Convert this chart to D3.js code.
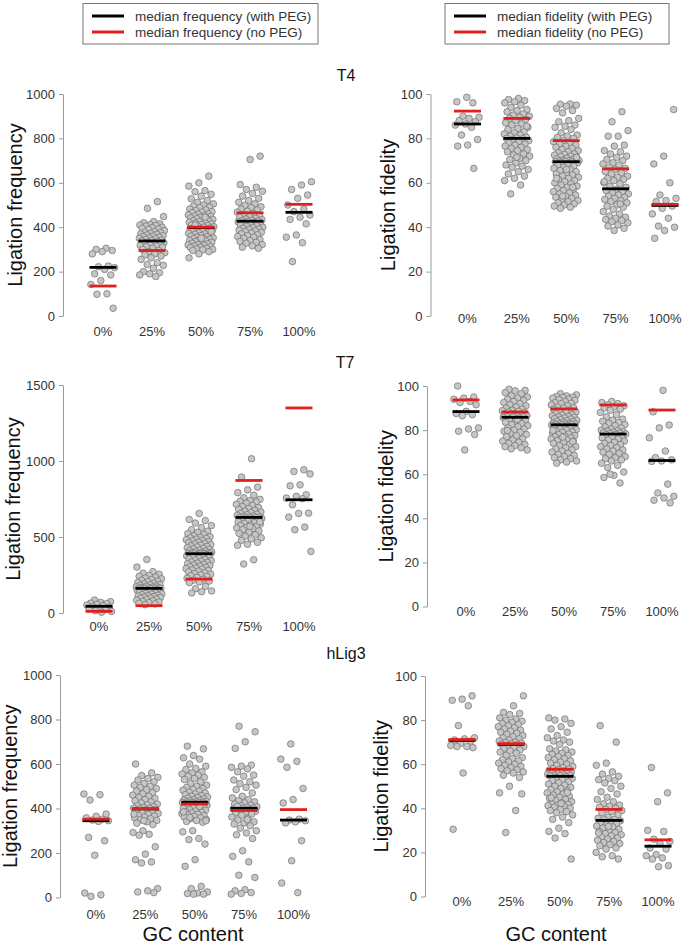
<!DOCTYPE html>
<html>
<head>
<meta charset="utf-8">
<script src="https://cdn.jsdelivr.net/npm/d3@7"></script>
<style>
body { margin: 0; background: #fff; }
svg text { font-family: "Liberation Sans", Arial, sans-serif; }
.dot { fill: #c6c6c6; stroke: #6f6f6f; stroke-width: 0.7; }
.axis path, .axis line { stroke: #999; fill: none; }
.axis text { fill: #333; font-size: 13px; font-family: "Liberation Sans", Arial, sans-serif; }
.cat { fill: #333; font-size: 13px; text-anchor: middle; }
.ylab { fill: #111; font-size: 20px; text-anchor: middle; }
.title { fill: #111; font-size: 16px; text-anchor: middle; }
.xlab { fill: #111; font-size: 20px; text-anchor: middle; }
.leg text { fill: #333; font-size: 13.5px; }
</style>
</head>
<body>
<svg id="chart" width="685" height="946"></svg>
<script>

var cats = ["0%", "25%", "50%", "75%", "100%"];

// T4 ligation frequency, one list per GC group
var t4Freq = [
  [305, 300, 295, 290, 280, 225, 222, 218, 210, 190, 185, 160, 142, 100, 98, 35],
  [515, 485, 448, 425, 420, 415, 412, 410, 408, 405, 400, 398, 395, 392, 390, 385, 380, 378, 375, 372, 370, 368, 365, 362, 360, 358, 355, 352, 350, 348, 345, 342,
   340, 338, 335, 332, 330, 328, 325, 322, 320, 318, 315, 312, 310, 305, 300, 295, 290, 285, 280, 275, 270, 262, 255, 240, 232, 228, 215, 200, 195, 190, 185, 178],
  [630, 600, 585, 565, 560, 548, 540, 528, 520, 512, 505, 500, 495, 490, 488, 482, 478, 475, 470, 468, 465, 460, 458, 455, 452, 450, 448, 445, 442, 440, 438, 435,
   432, 430, 428, 425, 422, 420, 418, 415, 412, 410, 408, 405, 402, 400, 398, 396, 394, 392, 390, 388, 385, 382, 380, 378, 375, 372, 370, 368, 365, 362, 360, 358,
   355, 352, 350, 348, 345, 342, 340, 338, 335, 332, 330, 328, 325, 322, 320, 318, 315, 312, 310, 308, 305, 302, 300, 298, 295, 290, 280, 262, 445, 410, 380, 350],
  [720, 705, 592, 580, 570, 562, 552, 540, 530, 520, 512, 505, 498, 492, 488, 482, 478, 472, 468, 462, 458, 452, 448, 445, 440, 437, 434, 431, 429, 428, 426, 424,
   421, 418, 415, 412, 410, 407, 404, 400, 398, 395, 392, 390, 387, 384, 380, 377, 374, 370, 366, 362, 358, 355, 350, 345, 340, 336, 332, 328, 322, 316, 310, 305],
  [605, 590, 570, 545, 530, 500, 482, 470, 455, 445, 435, 415, 365, 355, 330, 245]
];
var t4FreqMedPeg = [219, 338, 398, 427, 467];
var t4FreqMedNoPeg = [135, 295, 400, 465, 503];

// T4 ligation fidelity
var t4Fid = [
  [98.5, 96.5, 96, 90, 89.5, 89, 88, 87.5, 86.5, 86, 85, 81.5, 79.5, 77, 76.5, 66.5],
  [98, 97.5, 97, 96.5, 96, 95, 94, 93, 92.5, 92, 91, 90.5, 90, 89.5, 89, 88.5, 88, 87, 86.5, 86, 85, 84.5, 84, 83, 82.5, 82, 81.5, 81, 80.5, 80.2, 80, 79.8,
   79.5, 79, 78.5, 78, 77.5, 77, 76.5, 76, 75.5, 75, 74.5, 74, 73, 72.5, 72, 71, 70.5, 70, 69, 68, 67.5, 67, 66, 65, 64, 63, 62, 61, 59, 55, 85.5, 71.5],
  [95.5, 95.4, 95, 94.5, 93.5, 92.5, 91.5, 89, 88, 87.5, 86, 85.5, 85, 84, 82.5, 81.5, 81, 80.5, 80, 79, 78.5, 78, 77.5, 77, 76.5, 76, 75.5, 75, 74.5, 74, 73.5, 73,
   72.8, 72.5, 72, 71.8, 71.5, 71, 70.8, 70.5, 70.2, 70, 69.9, 69.8, 69.7, 69.6, 69.5, 69.4, 69.2, 69, 68.5, 68, 67.5, 67, 66.5, 66, 65.5, 65, 64.5, 64, 63.5, 63,
   62.5, 62, 61.5, 61, 60.5, 60, 59.5, 59, 58.5, 58, 57.5, 57, 56.5, 56, 55.5, 55, 54.5, 54, 53.5, 53, 52.5, 52, 51.5, 51, 50.5, 50, 49.5, 49, 48.5, 71.5, 66, 62, 58, 54],
  [92, 87.5, 83.5, 81, 81, 77, 76.5, 74.5, 74, 73, 72, 71.5, 70.5, 70, 69, 68.5, 68, 67, 66.5, 66, 65, 64.5, 64, 63, 62.5, 62, 61.5, 61, 60, 59.5, 58.5, 58,
   57, 56.5, 56, 55.5, 55, 54.5, 54, 53.5, 53, 52.5, 52, 51.5, 51, 50, 49.5, 49, 48, 47, 46, 45, 44.5, 44, 43.5, 43, 42.5, 42, 41, 40.5, 39.5, 38.5, 60.5, 50.5],
  [93, 72, 68.5, 60, 54.5, 53, 52, 51.5, 49.5, 48.5, 46, 44, 40.5, 40, 38.5, 35]
];
var t4FidMedPeg = [86.5, 80, 69.5, 57.3, 49.8];
var t4FidMedNoPeg = [92.3, 89, 79, 66.3, 50.3];

// T7 ligation frequency
var t7Freq = [
  [85, 75, 70, 65, 62, 58, 52, 48, 42, 38, 32, 28, 22, 15, 10, 5],
  [352, 302, 272, 262, 255, 248, 242, 236, 230, 225, 220, 215, 210, 205, 200, 196, 192, 188, 185, 182, 178, 175, 172, 170, 168, 166, 165, 164, 163, 162, 161, 160,
   158, 155, 152, 150, 147, 144, 141, 138, 135, 132, 129, 126, 123, 120, 117, 114, 111, 108, 105, 102, 99, 96, 92, 88, 84, 80, 76, 72, 68, 64, 60, 55],
  [655, 615, 608, 592, 575, 562, 548, 538, 530, 522, 515, 508, 502, 498, 494, 490, 486, 482, 478, 474, 470, 466, 462, 458, 454, 450, 446, 442, 438, 434, 430, 426,
   422, 418, 414, 410, 407, 404, 401, 398, 396, 394, 393, 392, 391, 390, 389, 388, 386, 383, 380, 376, 372, 368, 364, 360, 356, 352, 348, 344, 340, 336, 332, 328,
   324, 320, 316, 312, 308, 304, 300, 296, 292, 288, 284, 280, 275, 270, 265, 260, 255, 250, 245, 240, 234, 228, 222, 216, 210, 205, 200, 175, 160, 145, 140, 132],
  [1015, 895, 828, 810, 792, 775, 758, 748, 740, 735, 730, 722, 715, 708, 700, 694, 688, 682, 676, 670, 665, 660, 655, 650, 646, 642, 638, 635, 632, 630, 629, 628,
   626, 622, 618, 614, 610, 605, 600, 595, 590, 585, 580, 575, 570, 565, 560, 555, 548, 540, 532, 524, 515, 505, 495, 488, 478, 465, 452, 445, 350, 322, 600, 570],
  [942, 931, 915, 843, 837, 778, 767, 756, 752, 712, 657, 655, 631, 565, 548, 405]
];
var t7FreqMedPeg = [44, 162, 390, 629, 745];
var t7FreqMedNoPeg = [11, 48, 223, 872, 1349];

// T7 ligation fidelity
var t7Fid = [
  [100, 95, 94.5, 94, 93, 92.5, 91.5, 88.5, 87.5, 87, 86.5, 81, 80.5, 79.5, 78, 71],
  [98.5, 98, 97.8, 97, 96.5, 95.5, 95, 94.5, 94, 93.5, 93, 92.5, 92, 91.5, 91, 90.5, 90, 89.5, 89, 88.8, 88.5, 88.2, 88, 87.5, 87.2, 87, 86.8, 86.5, 86.3, 86.1, 86, 85.9,
   85.7, 85.5, 85, 84.5, 84, 83.5, 83, 82.5, 82, 81.5, 81, 80.5, 80, 79.5, 79, 78.5, 78, 77.5, 77, 76, 75.5, 75, 74.5, 74, 73.5, 73, 72.5, 72, 71.5, 71, 84.8, 79.8],
  [96.5, 96, 95.5, 95.2, 95, 94.8, 94.5, 94, 93.8, 93.5, 93, 92.5, 92.2, 92, 91.5, 91, 90.5, 90.2, 90, 89.5, 89, 88.5, 88.2, 88, 87.5, 87, 86.8, 86.5, 86.2, 86, 85.8, 85.5,
   85.2, 85, 84.8, 84.5, 84.2, 84, 83.8, 83.5, 83.2, 83, 82.9, 82.8, 82.7, 82.6, 82.5, 82.4, 82.2, 82, 81.8, 81.5, 81.2, 81, 80.8, 80.5, 80.2, 80, 79.5, 79.2, 79, 78.5,
   78.2, 78, 77.5, 77.2, 77, 76.5, 76.2, 76, 75.5, 75.2, 75, 74.5, 74, 73.5, 73, 72.5, 72, 71.5, 71, 70.5, 70, 69.5, 69, 68.5, 68, 67.5, 67, 66.5, 66, 65.5, 65, 74.8, 76.8, 79.8],
  [93, 92.5, 92, 91.5, 91, 90.5, 90, 89.5, 89, 88, 87, 86, 85, 84.5, 84, 83.5, 83, 82.5, 82, 81.5, 81, 80.5, 80, 79.8, 79.5, 79.2, 79, 78.8, 78.6, 78.4, 78.2, 78.1,
   78, 77.5, 77, 76.5, 76, 75.5, 75, 74.5, 74, 73.5, 73, 72.5, 72, 71.5, 71, 70.5, 70, 69.5, 69, 68, 67.5, 67, 66.5, 66, 65, 64, 63, 61, 59.5, 58.5, 56, 60],
  [98, 88.3, 82.3, 81, 76.5, 70.5, 67.5, 66.5, 66, 65.8, 55.5, 51.5, 50, 49.2, 48.2, 47]
];
var t7FidMedPeg = [88.4, 85.8, 82.4, 78.2, 66.2];
var t7FidMedNoPeg = [93.7, 88.2, 89.6, 91.4, 89.1];

// hLig3 ligation frequency
var hlig3Freq = [
  [465, 462, 438, 375, 365, 358, 352, 348, 345, 342, 270, 255, 190, 20, 12, 5],
  [600, 560, 548, 540, 535, 528, 520, 512, 505, 500, 495, 490, 484, 478, 472, 466, 460, 455, 450, 445, 440, 435, 430, 425, 420, 416, 412, 408, 405, 402, 400, 399,
   397, 394, 390, 386, 382, 378, 374, 370, 366, 362, 358, 354, 350, 346, 340, 334, 328, 300, 292, 284, 280, 228, 195, 170, 160, 155, 40, 30, 25, 22, 345, 375],
  [680, 668, 638, 628, 622, 600, 590, 580, 575, 565, 560, 555, 550, 545, 540, 535, 530, 520, 512, 505, 500, 495, 490, 486, 482, 478, 474, 470, 466, 462, 458, 455,
   452, 449, 446, 443, 440, 438, 436, 434, 432, 430, 429, 428, 427, 426, 425, 424, 423, 422, 420, 418, 416, 414, 412, 410, 407, 404, 401, 398, 395, 392, 389, 386,
   383, 380, 377, 374, 371, 368, 365, 362, 358, 354, 350, 346, 342, 338, 300, 295, 265, 260, 240, 170, 140, 50, 40, 25, 20, 18, 15, 15, 385, 410, 360, 345],
  [770, 745, 700, 670, 595, 590, 585, 578, 565, 550, 545, 528, 520, 512, 505, 495, 485, 470, 455, 448, 440, 435, 430, 425, 420, 415, 412, 408, 405, 403, 401, 400,
   398, 395, 392, 388, 384, 380, 375, 370, 362, 355, 348, 340, 335, 330, 322, 312, 300, 290, 282, 265, 210, 185, 160, 100, 90, 35, 30, 22, 18, 15, 350, 410],
  [690, 622, 612, 585, 490, 440, 425, 352, 348, 345, 340, 335, 255, 165, 65, 22]
];
var hlig3FreqMedPeg = [345, 398, 428, 401, 348];
var hlig3FreqMedNoPeg = [352, 399, 420, 391, 395];

// hLig3 ligation fidelity
var hlig3Fid = [
  [91, 89.5, 89, 86.5, 77.5, 72, 71.5, 71, 70.5, 69.5, 68.5, 68, 68, 67.5, 56, 30.5],
  [91, 86.5, 83.5, 83, 82.5, 81, 80.5, 80, 79.5, 79, 78.5, 78, 77.5, 77, 76.5, 76, 75.5, 75, 74.5, 74, 73.5, 73, 72.5, 72, 71.5, 71, 70.5, 70, 69.8, 69.5, 69.3, 69.1,
   68.8, 68.5, 68, 67.5, 67, 66.5, 66, 65.5, 65, 64, 63, 62.5, 62, 61.5, 61, 60.5, 60, 59.5, 59, 58.5, 58, 57.5, 57, 56.5, 56, 55, 54, 50, 47, 39, 29, 46.5],
  [81, 80.5, 80, 78.5, 77, 76, 74.5, 73, 72, 71, 70.5, 70, 69, 67, 66.5, 66, 65.5, 65, 64.5, 64, 63.5, 63, 62.5, 62, 61.5, 61, 60.5, 60, 59.5, 59, 58.5, 58,
   57.8, 57.5, 57.2, 57, 56.8, 56.5, 56.2, 56, 55.8, 55.6, 55.4, 55.2, 55, 54.9, 54.8, 54.7, 54.3, 54, 53.5, 53, 52.5, 52, 51.5, 51, 50.5, 50, 49.5, 49, 48.5, 48,
   47.5, 47, 46.5, 46, 45.5, 45, 44.5, 44, 43.5, 43, 42.5, 42, 41.8, 41.5, 41.2, 41, 40.5, 40, 39.5, 39, 38.5, 38, 37, 36, 35, 33.5, 31, 29.5, 28.5, 26.5, 17, 42.2, 44.8, 47.2],
  [77.5, 70, 60.5, 59.5, 56.5, 55.5, 54.5, 53.5, 53, 52.5, 51.5, 50, 49, 47.5, 46.5, 45, 44, 43, 42, 41.5, 41, 40.5, 40, 39.5, 39, 38.5, 38, 37, 36, 35.5, 35, 34.8,
   34.3, 34, 33.5, 33, 32.5, 32, 31.5, 31, 30.5, 30, 29.5, 29, 28.5, 28, 27.5, 27, 26.5, 26, 25.5, 25, 24.5, 24, 23.5, 23, 22, 21.5, 20, 18.5, 18, 17, 31.8, 28.8],
  [58.5, 47, 43, 30, 29.5, 26, 25, 24, 22, 21.5, 19, 18.5, 17.5, 17, 14, 13.5]
];
var hlig3FidMedPeg = [70.8, 69, 54.5, 34.5, 22.8];
var hlig3FidMedNoPeg = [71.2, 69.3, 57.7, 39.5, 25.7];

var legendFreq = ["median frequency (with PEG)", "median frequency (no PEG)"];
var legendFid = ["median fidelity (with PEG)", "median fidelity (no PEG)"];

var red = "#e0201c";
var svg = d3.select("#chart");

// each panel has its own frame, the figure was put together from separate plots
var panels = [
  {vals: t4Freq, peg: t4FreqMedPeg, nopeg: t4FreqMedNoPeg, ax: 63, top: 94, bot: 316, max: 1000, step: 200, cx0: 103, cx1: 299, labY: 336, ylab: "Ligation frequency", ylabX: 17},
  {vals: t4Fid, peg: t4FidMedPeg, nopeg: t4FidMedNoPeg, ax: 430.5, top: 94, bot: 316, max: 100, step: 20, cx0: 467.5, cx1: 665, labY: 323, ylab: "Ligation fidelity", ylabX: 390},
  {vals: t7Freq, peg: t7FreqMedPeg, nopeg: t7FreqMedNoPeg, ax: 63, top: 385, bot: 613, max: 1500, step: 500, cx0: 99, cx1: 299, labY: 630.5, ylab: "Ligation frequency", ylabX: 15},
  {vals: t7Fid, peg: t7FidMedPeg, nopeg: t7FidMedNoPeg, ax: 427, top: 386, bot: 606.5, max: 100, step: 20, cx0: 466, cx1: 662, labY: 615.5, ylab: "Ligation fidelity", ylabX: 388},
  {vals: hlig3Freq, peg: hlig3FreqMedPeg, nopeg: hlig3FreqMedNoPeg, ax: 60, top: 675, bot: 897.5, max: 1000, step: 200, cx0: 96, cx1: 293.5, labY: 918.5, ylab: "Ligation frequency", ylabX: 12},
  {vals: hlig3Fid, peg: hlig3FidMedPeg, nopeg: hlig3FidMedNoPeg, ax: 425, top: 676, bot: 896.5, max: 100, step: 20, cx0: 462, cx1: 658, labY: 906, ylab: "Ligation fidelity", ylabX: 383}
];

var jit = 13, half = 13.5;

panels.forEach(function(p, pi) {
  var y = d3.scaleLinear().domain([0, p.max]).range([p.bot, p.top]);
  var x = d3.scalePoint().domain(cats).range([p.cx0, p.cx1]);

  var g = svg.append("g");

  g.append("g")
    .attr("class", "axis")
    .attr("transform", "translate(" + p.ax + ",0)")
    .call(d3.axisLeft(y)
      .tickValues(d3.range(0, p.max + 1, p.step))
      .tickFormat(d3.format("d"))
      .tickSize(4).tickSizeOuter(0).tickPadding(4));

  g.selectAll(".cat")
    .data(cats)
    .enter().append("text")
    .attr("class", "cat")
    .attr("x", function(d) { return x(d); })
    .attr("y", p.labY)
    .text(function(d) { return d; });

  g.append("text")
    .attr("class", "ylab")
    .attr("transform", "translate(" + p.ylabX + "," + ((p.top + p.bot) / 2) + ") rotate(-90)")
    .attr("dy", "0.26em")
    .text(p.ylab);

  // jittered points, offsets from a golden-ratio sequence so they spread evenly
  var pts = [];
  p.vals.forEach(function(list, gi) {
    list.forEach(function(v, i) {
      var f = ((i + 1 + gi * 5 + pi * 3) * 0.6180339887) % 1;
      pts.push({c: cats[gi], v: v, off: (f - 0.5) * 2 * jit});
    });
  });

  g.selectAll(".dot")
    .data(pts)
    .enter().append("circle")
    .attr("class", "dot")
    .attr("cx", function(d) { return x(d.c) + d.off; })
    .attr("cy", function(d) { return y(d.v); })
    .attr("r", 3.3);

  g.selectAll(".med-peg")
    .data(p.peg)
    .enter().append("line")
    .attr("x1", function(d, i) { return x(cats[i]) - half; })
    .attr("x2", function(d, i) { return x(cats[i]) + half; })
    .attr("y1", function(d) { return y(d); })
    .attr("y2", function(d) { return y(d); })
    .attr("stroke", "#000")
    .attr("stroke-width", 2.8);

  g.selectAll(".med-nopeg")
    .data(p.nopeg)
    .enter().append("line")
    .attr("x1", function(d, i) { return x(cats[i]) - half; })
    .attr("x2", function(d, i) { return x(cats[i]) + half; })
    .attr("y1", function(d) { return y(d); })
    .attr("y2", function(d) { return y(d); })
    .attr("stroke", red)
    .attr("stroke-width", 2.8);
});

// titles
svg.append("text").attr("class", "title").attr("x", 346).attr("y", 81).text("T4");
svg.append("text").attr("class", "title").attr("x", 345).attr("y", 368).text("T7");
svg.append("text").attr("class", "title").attr("x", 346).attr("y", 659).text("hLig3");

svg.append("text").attr("class", "xlab").attr("x", 193).attr("y", 941).text("GC content");
svg.append("text").attr("class", "xlab").attr("x", 556).attr("y", 941).text("GC content");

// legends
function legend(x0, w, labels) {
  var lg = svg.append("g").attr("class", "leg");
  lg.append("rect")
    .attr("x", x0).attr("y", 3.5).attr("width", w).attr("height", 40.5)
    .attr("fill", "#fff").attr("stroke", "#777");
  lg.selectAll("line")
    .data(labels)
    .enter().append("line")
    .attr("x1", x0 + 9).attr("x2", x0 + 41)
    .attr("y1", function(d, i) { return 16 + i * 16; })
    .attr("y2", function(d, i) { return 16 + i * 16; })
    .attr("stroke", function(d, i) { return i == 0 ? "#000" : red; })
    .attr("stroke-width", 3);
  lg.selectAll("text")
    .data(labels)
    .enter().append("text")
    .attr("x", x0 + 52)
    .attr("y", function(d, i) { return 20.8 + i * 16; })
    .text(function(d) { return d; });
}
legend(83, 235, legendFreq);
legend(445, 224, legendFid);

</script>
</body>
</html>
